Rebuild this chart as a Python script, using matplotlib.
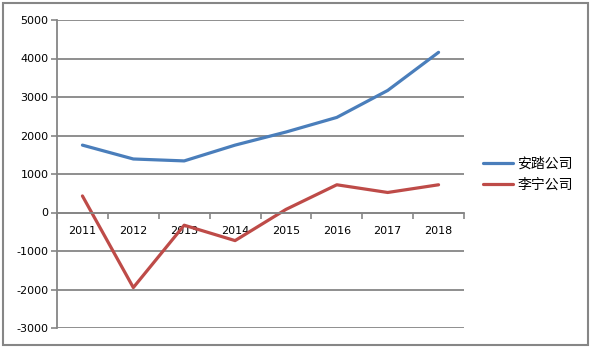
import numpy as np
import matplotlib.pyplot as plt
from matplotlib.patches import Rectangle
from matplotlib.ticker import FixedLocator

plt.rcParams['font.family'] = ['DejaVu Sans', 'Noto Sans CJK SC']
plt.rcParams['axes.unicode_minus'] = False

years = ['2011', '2012', '2013', '2014', '2015', '2016', '2017', '2018']
anta = [1750, 1390, 1340, 1750, 2090, 2470, 3170, 4160]
lining = [430, -1950, -330, -730, 80, 720, 520, 720]
series_names = ['安踏公司', '李宁公司']

grey = '#868686'

fig = plt.figure(figsize=(5.95, 3.51), dpi=100)
W, H = 595, 351
ax = fig.add_axes([57 / W, 1 - 328 / H, (464 - 57) / W, (328 - 20) / H])

x = np.arange(len(years))
ax.plot(x, anta, color='#4A7EBB', lw=2.3, label=series_names[0], solid_capstyle='round')
ax.plot(x, lining, color='#BE4B48', lw=2.3, label=series_names[1], solid_capstyle='round')

ax.set_xlim(-0.5, len(years) - 0.5)
ax.set_ylim(-3000, 5000)
ax.set_yticks(np.arange(-3000, 5001, 1000))
ax.tick_params(axis='y', length=4, color=grey, width=1.2, labelsize=8, pad=2)

ax.set_xticks(x)
ax.set_xticklabels(years)
ax.xaxis.set_minor_locator(FixedLocator(np.arange(-0.5, len(years), 1.0)))
ax.tick_params(axis='x', which='major', length=0, labelsize=8, pad=10)
ax.tick_params(axis='x', which='minor', length=4, color=grey, width=1.2, direction='out')

ax.grid(axis='y', color=grey, lw=1.3)
ax.set_axisbelow(True)
for s in ['top', 'right']:
    ax.spines[s].set_visible(False)
ax.spines['left'].set_color(grey)
ax.spines['left'].set_linewidth(1.3)
ax.spines['bottom'].set_position(('data', 0))
ax.spines['bottom'].set_color(grey)
ax.spines['bottom'].set_linewidth(1.3)

leg = fig.legend(loc='center left', bbox_to_anchor=(470 / W, 1 - 174 / H),
                 frameon=False, prop={'family': ['Noto Sans CJK SC'], 'size': 10},
                 handlelength=2.2, handletextpad=0.3, labelspacing=0.5)

fig.patches.append(Rectangle((3 / W, 1 - 345 / H), 585 / W, 342 / H,
                             transform=fig.transFigure, fill=False,
                             edgecolor=grey, lw=1.5))

fig.savefig('out.png', dpi=100)
